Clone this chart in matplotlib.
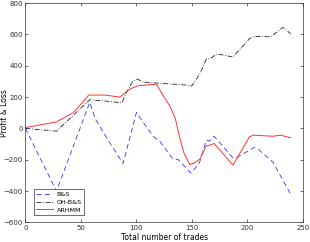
import matplotlib
matplotlib.use("Agg")
import matplotlib.pyplot as plt

# values
bs_x = [0, 28, 58, 63, 75, 88, 100, 115, 121, 133, 138, 149, 154, 157, 163, 166, 170, 187, 190, 206, 209, 223, 239]
bs_y = [0, -400, 167, 60, -80, -224, 102, -50, -82, -196, -200, -285, -245, -215, -75, -80, -50, -188, -188, -122, -128, -215, -420]

oh_x = [0, 28, 58, 72, 87, 91, 97, 101, 106, 145, 150, 157, 163, 167, 172, 176, 187, 202, 207, 221, 232, 239]
oh_y = [0, -17, 183, 175, 163, 230, 304, 315, 296, 277, 272, 347, 443, 447, 475, 472, 456, 574, 588, 585, 645, 605]

ar_x = [0, 28, 43, 50, 57, 72, 85, 94, 101, 118, 125, 130, 135, 139, 143, 148, 152, 157, 163, 166, 170, 187, 202, 206, 223, 230, 239]
ar_y = [5, 42, 100, 155, 213, 213, 200, 251, 272, 283, 200, 145, 65, -60, -160, -230, -222, -196, -111, -107, -96, -234, -52, -43, -50, -43, -60]

xticks = [0, 50, 100, 150, 200, 250]
yticks = [-600, -400, -200, 0, 200, 400, 600, 800]

fig = plt.figure(figsize=(3.1, 2.42), dpi=100)
ax = fig.add_axes([0.082, 0.081, 0.895, 0.906])

ax.plot(bs_x, bs_y, color='#3333ff', ls=(0, (6, 4)), lw=0.6, label='B&S')
ax.plot(oh_x, oh_y, color='#222222', ls=(0, (6, 2, 1, 2)), lw=0.6, label='OH-B&S')
ax.plot(ar_x, ar_y, color='#ff3333', ls='-', lw=0.7, label='ARHMM')

ax.set_xlim(0, 250)
ax.set_ylim(-600, 800)
ax.set_xticks(xticks)
ax.set_yticks(yticks)
ax.tick_params(direction='in', top=True, right=True, labelsize=5,
               length=2.5, width=0.5, pad=2, colors='#333333')
for s in ax.spines.values():
    s.set_linewidth(0.5)
    s.set_color('#333333')

ax.set_xlabel('Total number of trades', fontsize=5.5, labelpad=1)
ax.set_ylabel('Profit & Loss', fontsize=5.5)
ax.yaxis.set_label_coords(-0.058, 0.5)

leg = ax.legend(loc='lower left', fontsize=4.6, fancybox=False, framealpha=1,
                edgecolor='#333333', handlelength=2.6, borderpad=0.35,
                labelspacing=0.35, handletextpad=0.6,
                bbox_to_anchor=(0.02, 0.02))
leg.get_frame().set_linewidth(0.5)

fig.savefig('out.png', dpi=100)
